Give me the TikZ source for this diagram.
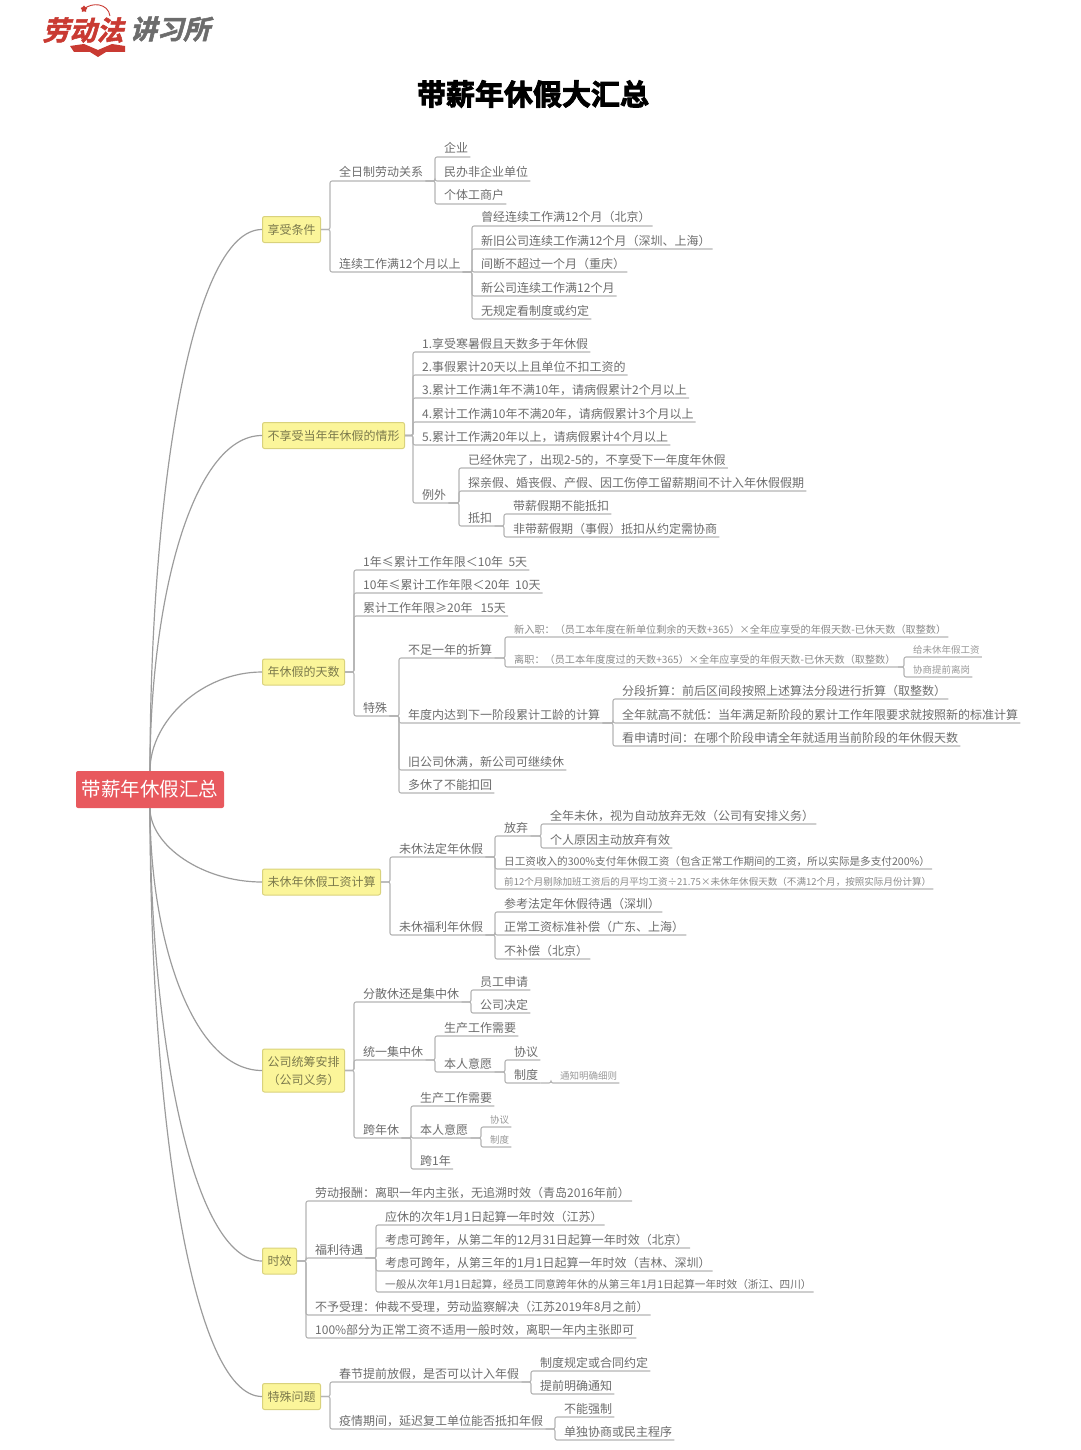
\documentclass[tikz,border=0pt]{standalone}
\usepackage{fontspec}
\usepackage{xcolor}
\usetikzlibrary{positioning,shapes.geometric}
\setmainfont{Noto Sans CJK SC}
\newfontfamily\titlefont[FakeBold=3]{Noto Sans CJK SC Bold}
\newfontfamily\logofont[FakeSlant=0.25,FakeBold=2]{Noto Sans CJK SC Bold}
\definecolor{linegray}{HTML}{B4B4B4}
\definecolor{curvegray}{HTML}{9C9C9C}
\definecolor{textgray}{HTML}{6C6C6C}
\definecolor{rootred}{HTML}{E8595E}
\definecolor{hbfill}{HTML}{FBF59A}
\definecolor{hbline}{HTML}{D9D27C}
\definecolor{hbtext}{HTML}{7C7A4C}
\definecolor{logored}{HTML}{C93A32}
\tikzset{
    rootbox/.style={
        rectangle,
        rounded corners=2pt,
        fill=rootred,
        text=white,
        minimum width=148pt,
        minimum height=37pt,
        inner sep=0pt,
        font=\fontsize{19.5pt}{22pt}\selectfont
    },
    hb/.style={
        rectangle,
        rounded corners=2pt,
        draw=hbline,
        fill=hbfill,
        text=hbtext,
        line width=1pt,
        anchor=west,
        align=center,
        minimum height=26pt,
        inner xsep=5pt,
        inner ysep=0pt,
        font=\fontsize{12pt}{18pt}\selectfont
    },
    tpc/.style={
        anchor=south west,
        text=textgray,
        text height=10pt,
        text depth=2pt,
        inner ysep=1.8pt,
        inner xsep=2pt,
        execute at begin node={\hskip 7pt},
        font=\fontsize{12pt}{14pt}\selectfont
    },
    tpcm/.style={tpc, font=\fontsize{10.6pt}{14pt}\selectfont},
    tpcs/.style={tpc, text=textgray!80, font=\fontsize{10.15pt}{12pt}\selectfont},
    tpcx/.style={tpc, text=textgray!80, font=\fontsize{9.55pt}{12pt}\selectfont},
    tpct/.style={tpc, text=textgray!70, font=\fontsize{9.5pt}{12pt}\selectfont},
    curve/.style={draw=curvegray, line width=1.2pt},
    link/.style={
        draw=linegray,
        line width=1.1pt,
        rounded corners=2pt,
        to path={(\tikztostart.south east) -| (\tikztotarget.south west) -- (\tikztotarget.south east)}
    },
    stem/.style={
        draw=linegray,
        line width=1.1pt,
        rounded corners=2pt,
        to path={(\tikztostart.east) -| (\tikztotarget.south west) -- (\tikztotarget.south east)}
    }
}

\begin{document}
\begin{tikzpicture}[x=1pt,y=-1pt]
    \useasboundingbox (0,0) rectangle (1080,1450);

    % Logo
    \node[inner sep=0pt, text=logored, font=\logofont\fontsize{27pt}{30pt}\selectfont] (logoa) at (83,30) {劳动法};
    \node[inner sep=0pt, text=textgray, font=\logofont\fontsize{26.5pt}{30pt}\selectfont] (logob) at (170,29) {讲习所};
    \fill[logored] (70,46) -- (84,44) -- (98,50) -- (112,44) -- (125,46) -- (125,52) -- (106,52) -- (98,57) -- (90,52) -- (74,52) -- cycle;
    \draw[logored, line width=0.9pt] (84,9) .. controls (92,2) and (108,3) .. (110,16);
    \node[star, fill=logored, inner sep=0pt, minimum size=7pt] (logostar) at (84,9) {};

    % Title
    \node[inner sep=0pt, font=\titlefont\fontsize{29pt}{32pt}\selectfont] (title) at (533,94) {带薪年休假大汇总};

    % Root and main branches
    \node[rootbox] (root) at (150,789.5) {带薪年休假汇总};
    \node[hb] (hb1) at (262,229.5) {享受条件};
    \node[hb] (hb2) at (262,435.5) {不享受当年年休假的情形};
    \node[hb] (hb3) at (262,672) {年休假的天数};
    \node[hb] (hb4) at (262,882) {未休年休假工资计算};
    \node[hb, minimum height=43pt] (hb5) at (262,1070.5) {公司统筹安排\\（公司义务）};
    \node[hb] (hb6) at (262,1261) {时效};
    \node[hb] (hb7) at (262,1396.5) {特殊问题};

    \draw[curve] (root.north) .. controls +(0,-270) and +(-72,0) .. (hb1.west);
    \draw[curve] (root.north) .. controls +(0,-170) and +(-70,0) .. (hb2.west);
    \draw[curve] (root.north) .. controls +(0,-50) and +(-60,0) .. (hb3.west);
    \draw[curve] (root.south) .. controls +(0,37) and +(-60,0) .. (hb4.west);
    \draw[curve] (root.south) .. controls +(0,130) and +(-70,0) .. (hb5.west);
    \draw[curve] (root.south) .. controls +(0,226) and +(-70,0) .. (hb6.west);
    \draw[curve] (root.south) .. controls +(0,294) and +(-72,0) .. (hb7.west);

    % Branch 1
    \node[tpc] (a1) at (330,181) {全日制劳动关系};
    \node[tpc] (a2) at (330,272) {连续工作满12个月以上};
    \node[tpc] (a11) at (435,157) {企业};
    \node[tpc] (a12) at (435,181) {民办非企业单位};
    \node[tpc] (a13) at (435,204) {个体工商户};
    \node[tpc] (a21) at (472,226) {曾经连续工作满12个月（北京）};
    \node[tpc] (a22) at (472,249) {新旧公司连续工作满12个月（深圳、上海）};
    \node[tpc] (a23) at (472,272) {间断不超过一个月（重庆）};
    \node[tpc] (a24) at (472,296) {新公司连续工作满12个月};
    \node[tpc] (a25) at (472,319) {无规定看制度或约定};
    \draw[stem] (hb1) to (a1);
    \draw[stem] (hb1) to (a2);
    \draw[link] (a1) to (a11);
    \draw[link] (a1) to (a12);
    \draw[link] (a1) to (a13);
    \draw[link] (a2) to (a21);
    \draw[link] (a2) to (a22);
    \draw[link] (a2) to (a23);
    \draw[link] (a2) to (a24);
    \draw[link] (a2) to (a25);

    % Branch 2
    \node[tpc] (b1) at (413,352) {1.享受寒暑假且天数多于年休假};
    \node[tpc] (b2) at (413,375) {2.事假累计20天以上且单位不扣工资的};
    \node[tpc] (b3) at (413,398) {3.累计工作满1年不满10年，请病假累计2个月以上};
    \node[tpc] (b4) at (413,422) {4.累计工作满10年不满20年，请病假累计3个月以上};
    \node[tpc] (b5) at (413,445) {5.累计工作满20年以上，请病假累计4个月以上};
    \node[tpc] (b6) at (413,503) {例外};
    \node[tpc] (b61) at (459,468) {已经休完了，出现2-5的，不享受下一年度年休假};
    \node[tpc] (b62) at (459,491) {探亲假、婚丧假、产假、因工伤停工留薪期间不计入年休假假期};
    \node[tpc] (b63) at (459,526) {抵扣};
    \node[tpc] (b631) at (504,514) {带薪假期不能抵扣};
    \node[tpc] (b632) at (504,537) {非带薪假期（事假）抵扣从约定需协商};
    \draw[stem] (hb2) to (b1);
    \draw[stem] (hb2) to (b2);
    \draw[stem] (hb2) to (b3);
    \draw[stem] (hb2) to (b4);
    \draw[stem] (hb2) to (b5);
    \draw[stem] (hb2) to (b6);
    \draw[link] (b6) to (b61);
    \draw[link] (b6) to (b62);
    \draw[link] (b6) to (b63);
    \draw[link] (b63) to (b631);
    \draw[link] (b63) to (b632);

    % Branch 3
    \node[tpc] (c1) at (354,570) {1年≤累计工作年限＜10年\ \ 5天};
    \node[tpc] (c2) at (354,593) {10年≤累计工作年限＜20年\ \ 10天};
    \node[tpc] (c3) at (354,616) {累计工作年限≥20年\ \ \ 15天};
    \node[tpc] (c4) at (354,716) {特殊};
    \node[tpc] (c41) at (399,658) {不足一年的折算};
    \node[tpc] (c42) at (399,723) {年度内达到下一阶段累计工龄的计算};
    \node[tpc] (c43) at (399,770) {旧公司休满，新公司可继续休};
    \node[tpc] (c44) at (399,793) {多休了不能扣回};
    \node[tpcs] (c411) at (505,637) {新入职：（员工本年度在新单位剩余的天数+365）×全年应享受的年假天数-已休天数（取整数）};
    \node[tpcs] (c412) at (505,667) {离职：（员工本年度度过的天数+365）×全年应享受的年假天数-已休天数（取整数）};
    \node[tpct] (c4121) at (904,657) {给未休年假工资};
    \node[tpct] (c4122) at (904,677) {协商提前离岗};
    \node[tpc] (c421) at (613,699) {分段折算：前后区间段按照上述算法分段进行折算（取整数）};
    \node[tpc] (c422) at (613,723) {全年就高不就低：当年满足新阶段的累计工作年限要求就按照新的标准计算};
    \node[tpc] (c423) at (613,746) {看申请时间：在哪个阶段申请全年就适用当前阶段的年休假天数};
    \draw[stem] (hb3) to (c1);
    \draw[stem] (hb3) to (c2);
    \draw[stem] (hb3) to (c3);
    \draw[stem] (hb3) to (c4);
    \draw[link] (c4) to (c41);
    \draw[link] (c4) to (c42);
    \draw[link] (c4) to (c43);
    \draw[link] (c4) to (c44);
    \draw[link] (c41) to (c411);
    \draw[link] (c41) to (c412);
    \draw[link] (c412) to (c4121);
    \draw[link] (c412) to (c4122);
    \draw[link] (c42) to (c421);
    \draw[link] (c42) to (c422);
    \draw[link] (c42) to (c423);

    % Branch 4
    \node[tpc] (d1) at (390,857) {未休法定年休假};
    \node[tpc] (d2) at (390,935) {未休福利年休假};
    \node[tpc] (d11) at (495,836) {放弃};
    \node[tpc] (d111) at (541,824) {全年未休，视为自动放弃无效（公司有安排义务）};
    \node[tpc] (d112) at (541,848) {个人原因主动放弃有效};
    \node[tpcm] (d12) at (495,869) {日工资收入的300\%支付年休假工资（包含正常工作期间的工资，所以实际是多支付200\%）};
    \node[tpcx] (d13) at (495,889) {前12个月剔除加班工资后的月平均工资÷21.75×未休年休假天数（不满12个月，按照实际月份计算）};
    \node[tpc] (d21) at (495,912) {参考法定年休假待遇（深圳）};
    \node[tpc] (d22) at (495,935) {正常工资标准补偿（广东、上海）};
    \node[tpc] (d23) at (495,959) {不补偿（北京）};
    \draw[stem] (hb4) to (d1);
    \draw[stem] (hb4) to (d2);
    \draw[link] (d1) to (d11);
    \draw[link] (d1) to (d12);
    \draw[link] (d1) to (d13);
    \draw[link] (d11) to (d111);
    \draw[link] (d11) to (d112);
    \draw[link] (d2) to (d21);
    \draw[link] (d2) to (d22);
    \draw[link] (d2) to (d23);

    % Branch 5
    \node[tpc] (e1) at (354,1002) {分散休还是集中休};
    \node[tpc] (e2) at (354,1060) {统一集中休};
    \node[tpc] (e3) at (354,1138) {跨年休};
    \node[tpc] (e11) at (471,990) {员工申请};
    \node[tpc] (e12) at (471,1013) {公司决定};
    \node[tpc] (e21) at (435,1036) {生产工作需要};
    \node[tpc] (e22) at (435,1072) {本人意愿};
    \node[tpc] (e221) at (505,1060) {协议};
    \node[tpc] (e222) at (505,1083) {制度};
    \node[tpct] (e2221) at (551,1083) {通知明确细则};
    \node[tpc] (e31) at (411,1106) {生产工作需要};
    \node[tpc] (e32) at (411,1138) {本人意愿};
    \node[tpc] (e33) at (411,1169) {跨1年};
    \node[tpct] (e321) at (481,1127) {协议};
    \node[tpct] (e322) at (481,1147) {制度};
    \draw[stem] (hb5) to (e1);
    \draw[stem] (hb5) to (e2);
    \draw[stem] (hb5) to (e3);
    \draw[link] (e1) to (e11);
    \draw[link] (e1) to (e12);
    \draw[link] (e2) to (e21);
    \draw[link] (e2) to (e22);
    \draw[link] (e22) to (e221);
    \draw[link] (e22) to (e222);
    \draw[link] (e222) to (e2221);
    \draw[link] (e3) to (e31);
    \draw[link] (e3) to (e32);
    \draw[link] (e3) to (e33);
    \draw[link] (e32) to (e321);
    \draw[link] (e32) to (e322);

    % Branch 6
    \node[tpc] (f1) at (306,1201) {劳动报酬：离职一年内主张，无追溯时效（青岛2016年前）};
    \node[tpc] (f2) at (306,1258) {福利待遇};
    \node[tpc] (f3) at (306,1315) {不予受理：仲裁不受理，劳动监察解决（江苏2019年8月之前）};
    \node[tpc] (f4) at (306,1338) {100\%部分为正常工资不适用一般时效，离职一年内主张即可};
    \node[tpc] (f21) at (376,1225) {应休的次年1月1日起算一年时效（江苏）};
    \node[tpc] (f22) at (376,1248) {考虑可跨年，从第二年的12月31日起算一年时效（北京）};
    \node[tpc] (f23) at (376,1271) {考虑可跨年，从第三年的1月1日起算一年时效（吉林、深圳）};
    \node[tpcm] (f24) at (376,1292) {一般从次年1月1日起算，经员工同意跨年休的从第三年1月1日起算一年时效（浙江、四川）};
    \draw[stem] (hb6) to (f1);
    \draw[stem] (hb6) to (f2);
    \draw[stem] (hb6) to (f3);
    \draw[stem] (hb6) to (f4);
    \draw[link] (f2) to (f21);
    \draw[link] (f2) to (f22);
    \draw[link] (f2) to (f23);
    \draw[link] (f2) to (f24);

    % Branch 7
    \node[tpc] (g1) at (330,1382) {春节提前放假，是否可以计入年假};
    \node[tpc] (g2) at (330,1429) {疫情期间，延迟复工单位能否抵扣年假};
    \node[tpc] (g11) at (531,1371) {制度规定或合同约定};
    \node[tpc] (g12) at (531,1394) {提前明确通知};
    \node[tpc] (g21) at (555,1417) {不能强制};
    \node[tpc] (g22) at (555,1440) {单独协商或民主程序};
    \draw[stem] (hb7) to (g1);
    \draw[stem] (hb7) to (g2);
    \draw[link] (g1) to (g11);
    \draw[link] (g1) to (g12);
    \draw[link] (g2) to (g21);
    \draw[link] (g2) to (g22);
\end{tikzpicture}
\end{document}
